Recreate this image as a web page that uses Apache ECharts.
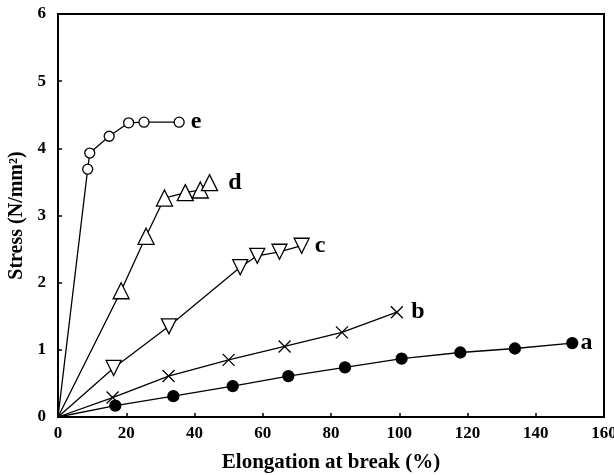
<!DOCTYPE html>
<html>
<head>
<meta charset="utf-8">
<script src="https://cdn.jsdelivr.net/npm/echarts@6/dist/echarts.min.js"></script>
<style>
    html, body { margin: 0; padding: 0; background: #fff; }
    #chart { width: 614px; height: 475px; }
</style>
</head>
<body>
<div id="chart"></div>
<script>
// curve values: [elongation %, stress N/mm2]
const curveA = [[0, 0], [16.8, 0.17], [33.8, 0.31], [51.2, 0.46], [67.5, 0.61], [84.1, 0.74], [100.7, 0.87], [117.9, 0.96], [133.9, 1.02], [150.7, 1.10]]
const curveB = [[0, 0], [16.0, 0.29], [32.4, 0.61], [50.0, 0.85], [66.4, 1.05], [83.2, 1.26], [99.3, 1.56]]
const curveC = [[0, 0], [16.3, 0.73], [32.5, 1.35], [53.4, 2.23], [58.4, 2.40], [64.9, 2.46], [71.4, 2.55]]
const curveD = [[0, 0], [18.5, 1.88], [25.8, 2.69], [31.2, 3.26], [37.3, 3.34], [41.7, 3.38], [44.4, 3.49]]
const curveE = [[0, 0], [8.7, 3.69], [9.3, 3.93], [15.0, 4.18], [20.7, 4.38], [25.2, 4.39], [35.5, 4.39]]
const curveNames = ['a', 'b', 'c', 'd', 'e']

const serif = '"Liberation Serif", "DejaVu Serif", serif'

// 起点 (0,0) 不画符号，末点写上曲线名
function points(arr, name, gap) {
    return arr.map(function (p, i) {
        const item = { value: p }
        if (i === 0) item.symbol = 'none'
        if (i === arr.length - 1) {
            item.label = {
                show: true,
                position: 'right',
                distance: gap,
                formatter: name,
                color: '#000',
                fontFamily: serif,
                fontWeight: 'bold',
                fontSize: 24
            }
        }
        return item
    })
}

function makeSeries(arr, name, symbol, size, fill, gap) {
    return {
        name: name,
        type: 'line',
        data: points(arr, name, gap),
        symbol: symbol,
        symbolSize: size,
        showAllSymbol: true,
        lineStyle: { color: '#000', width: 1.3 },
        itemStyle: { color: fill, borderColor: '#000', borderWidth: 1.3 },
        z: 3
    }
}

const chart = echarts.init(document.getElementById('chart'))
const option = {
    animation: false,
    grid: {
        left: 58, right: 10, top: 14, bottom: 58,
        outerBoundsMode: 'none',
        containLabel: false,
        show: true, borderColor: '#000', borderWidth: 2
    },
    xAxis: {
        type: 'value',
        min: 0, max: 160, interval: 20,
        name: 'Elongation at break (%)',
        nameLocation: 'middle',
        nameGap: 35,
        nameTextStyle: { color: '#000', fontFamily: serif, fontWeight: 'bold', fontSize: 21 },
        axisLine: { lineStyle: { color: '#000', width: 2 } },
        axisTick: { inside: true, length: 4, lineStyle: { color: '#000', width: 1.5 } },
        axisLabel: { color: '#000', fontFamily: serif, fontWeight: 'bold', fontSize: 17, margin: 8 },
        splitLine: { show: false }
    },
    yAxis: {
        type: 'value',
        min: 0, max: 6, interval: 1,
        name: 'Stress (N/mm²)',
        nameLocation: 'middle',
        nameGap: 31,
        nameTextStyle: { color: '#000', fontFamily: serif, fontWeight: 'bold', fontSize: 20 },
        axisLine: { lineStyle: { color: '#000', width: 2 } },
        axisTick: { inside: true, length: 4, lineStyle: { color: '#000', width: 1.5 } },
        axisLabel: { color: '#000', fontFamily: serif, fontWeight: 'bold', fontSize: 17, margin: 12 },
        splitLine: { show: false }
    },
    series: [
        makeSeries(curveA, curveNames[0], 'circle', 11, '#000', 2),
        makeSeries(curveB, curveNames[1], 'path://M0,0L10,10M10,0L0,10', 12, 'none', 6),
        makeSeries(curveC, curveNames[2], 'path://M0,0L12,0L6,11Z', 15, '#fff', 5),
        makeSeries(curveD, curveNames[3], 'path://M6,0L12,11L0,11Z', 16, '#fff', 10),
        makeSeries(curveE, curveNames[4], 'circle', 10, '#fff', 6)
    ]
}
option && chart.setOption(option)
</script>
</body>
</html>
